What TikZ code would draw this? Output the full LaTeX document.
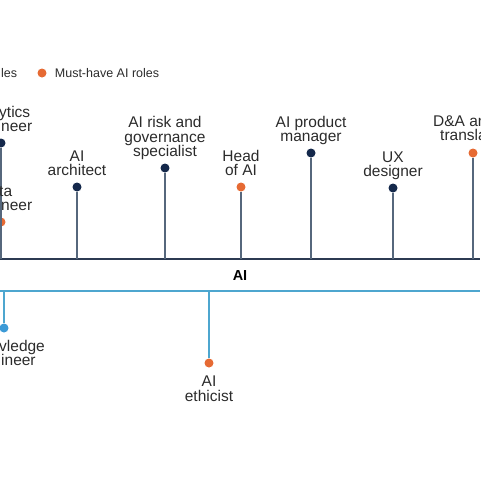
\documentclass[tikz,border=0pt]{standalone}
\usepackage{fontspec}
\setmainfont{Liberation Sans}
\usetikzlibrary{positioning}
\definecolor{navy}{HTML}{14284B}
\definecolor{stemgrey}{HTML}{56677C}
\definecolor{linedark}{HTML}{2C3A52}
\definecolor{roleorange}{HTML}{E66A33}
\definecolor{skyline}{HTML}{4DA6CF}
\definecolor{skydot}{HTML}{3B9AD6}
\definecolor{txtgrey}{HTML}{2B2B2B}

\begin{document}
\begin{tikzpicture}[x=1pt,y=-1pt,
    dot/.style={circle,fill=#1,inner sep=0pt,minimum size=9pt},
    role/.style={font=\fontsize{15.5}{14.5}\selectfont,text=txtgrey,
      align=center,inner sep=0pt,text depth=3pt},
    legend/.style={font=\fontsize{12.5}{14}\selectfont,text=txtgrey,inner sep=0pt},
    stem/.style={stemgrey,line width=1.2pt},
    skystem/.style={skyline,line width=1.2pt}]
            \useasboundingbox (0,0) rectangle (480,504);
            \draw (1,73) node[legend,anchor=west] (coreT) {les};
            \draw (42,73) node[dot=roleorange] (mustdot) {};
            \node[legend,right=8pt of mustdot] (mustT) {Must-have AI roles};
            \draw[linedark,line width=2pt] (0,259) coordinate (L1) -- (480,259) coordinate (R1);
            \draw[skyline,line width=2.2pt] (0,291) coordinate (L2) -- (480,291) coordinate (R2);
            \draw (240,276) node[font=\bfseries\fontsize{14.5}{14}\selectfont] (aiT) {AI};
            \draw (1,143) node[dot=navy] (ana) {};
            \draw (1,222) node[dot=roleorange] (data) {};
            \draw (77,187) node[dot=navy] (arch) {};
            \draw (165,168) node[dot=navy] (risk) {};
            \draw (241,187) node[dot=roleorange] (head) {};
            \draw (311,153) node[dot=navy] (prod) {};
            \draw (393,188) node[dot=navy] (ux) {};
            \draw (473,153) node[dot=roleorange] (trans) {};
            \draw (4,328) node[dot=skydot] (know) {};
            \draw (209,363) node[dot=roleorange] (ethic) {};
            \draw[stem] (ana)--(ana |- L1);
            \draw[stem] (data)--(data |- L1);
            \draw[stem] (arch)--(arch |- L1);
            \draw[stem] (risk)--(risk |- L1);
            \draw[stem] (head)--(head |- L1);
            \draw[stem] (prod)--(prod |- L1);
            \draw[stem] (ux)--(ux |- L1);
            \draw[stem] (trans)--(trans |- L1);
            \draw[skystem] (know)--(know |- L2);
            \draw[skystem] (ethic)--(ethic |- L2);
            \draw (-1,117) node[role,anchor=base west,text depth=0pt] (anaT1) {ytics};
            \draw (1,131.5) node[role,anchor=base west,text depth=0pt] (anaT2) {neer};
            \draw (-1,196) node[role,anchor=base west,text depth=0pt] (dataT1) {ta};
            \draw (1,210.5) node[role,anchor=base west,text depth=0pt] (dataT2) {neer};
            \node[role,above=3.5pt of arch] (archT) {AI\\architect};
            \node[role,above=3.5pt of risk] (riskT) {AI risk and\\governance\\specialist};
            \node[role,above=3.5pt of head] (headT) {Head\\of AI};
            \node[role,above=3.5pt of prod] (prodT) {AI product\\manager};
            \node[role,above=3.5pt of ux] (uxT) {UX\\designer};
            \draw (433,126) node[role,anchor=base west,text depth=0pt] (transT1) {D\&A an};
            \draw (440,140.5) node[role,anchor=base west,text depth=0pt] (transT2) {transla};
            \draw (-1,351) node[role,anchor=base west,text depth=0pt] (knowT1) {vledge};
            \draw (1,365.5) node[role,anchor=base west,text depth=0pt] (knowT2) {ineer};
            \node[role,below=8pt of ethic] (ethicT) {AI\\ethicist};
            \end{tikzpicture}
\end{document}
